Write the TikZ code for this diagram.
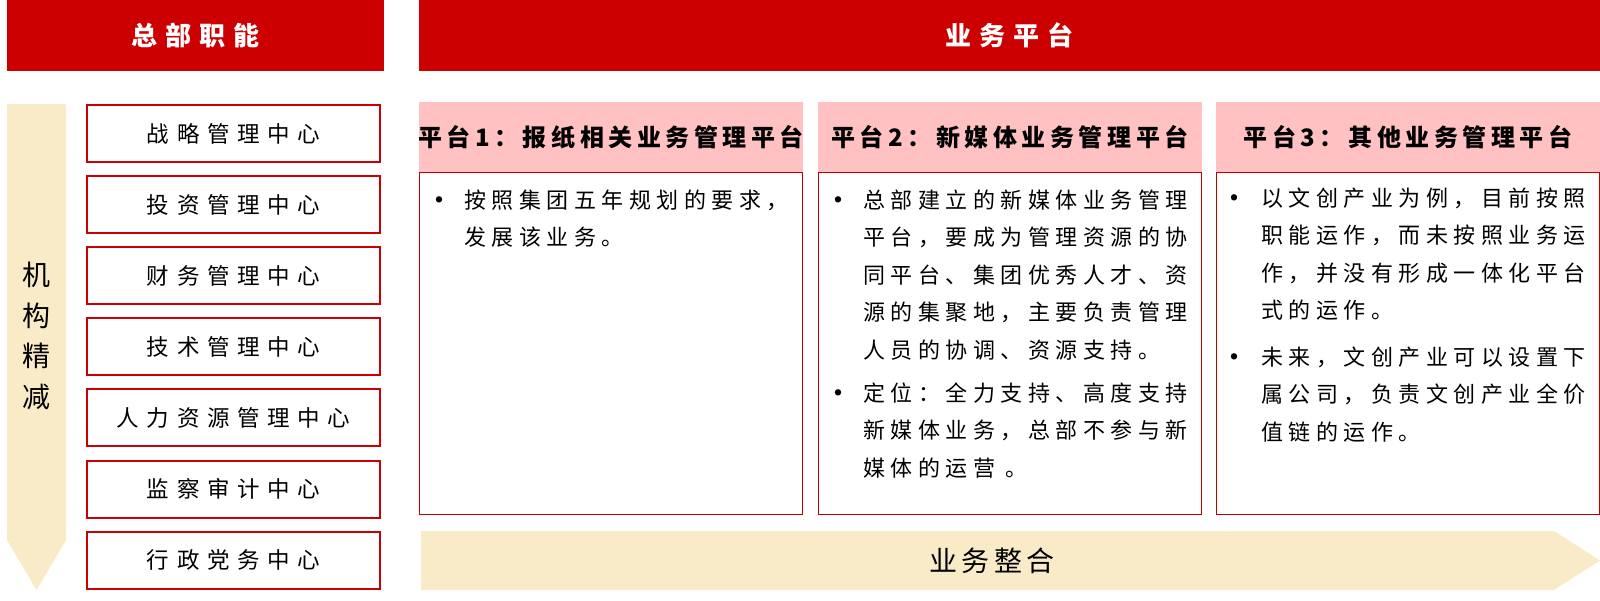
\documentclass[tikz,border=0pt]{standalone}
\usepackage{fontspec}
\setmainfont{Noto Sans CJK SC}
\newfontfamily\fonttesta[LetterSpace=30]{Noto Sans CJK SC}
\newfontfamily\fontcentro[LetterSpace=34]{Noto Sans CJK SC}
\newfontfamily\fonttitolo[LetterSpace=19]{Noto Sans CJK SC}
\newfontfamily\fontcorpo[LetterSpace=25]{Noto Sans CJK SC}
\newfontfamily\fontfreccia[LetterSpace=15]{Noto Sans CJK SC}
\definecolor{rosso}{HTML}{CC0000}
\definecolor{bordo}{HTML}{C00000}
\definecolor{rosa}{HTML}{FFC1C1}
\definecolor{crema}{HTML}{FAEBC8}
\tikzset{
  testata/.style={fill=rosso, minimum height=71pt, inner sep=0pt},
  centro/.style={draw=rosso, line width=2pt, fill=white, minimum width=293pt,
    minimum height=57pt, inner sep=0pt, font=\fontcentro\fontsize{22.5}{26}\selectfont},
  corpo/.style={anchor=north west, inner sep=0pt, align=left,
    font=\fontcorpo\fontsize{22}{37.5}\selectfont},
  punto/.style={inner sep=0pt, font=\fontsize{7}{7}\selectfont}
}
\begin{document}
\begin{tikzpicture}[x=1pt,y=-1pt]
% Definisci le variabili
\def\larg{384}  % larghezza di una piattaforma
\def\passo{71.1}  % passo dei centri
\useasboundingbox (0,0) rectangle (1600,600);

% Intestazioni rosse
\node[testata, minimum width=377pt] (sede) at (195.5,35.5) {};
\node[text=white, font=\fonttesta\bfseries\fontsize{26}{30}\selectfont] (sedetxt) at (sede.center) {总部职能};
\node[testata, minimum width=1181pt] (affari) at (1009.5,35.5) {};
\node[text=white, font=\fonttesta\bfseries\fontsize{26}{30}\selectfont] (affaritxt) at (affari.center) {业务平台};

% Freccia verticale
\fill[crema] (7,104) -- (66,104) -- (66,540) -- (36.5,590) -- (7,540) -- cycle;
\node[align=center, inner sep=0pt, font=\fontsize{28}{40.5}\selectfont] (snello) at (36.5,336) {机\\构\\精\\减};

% Centri funzionali
\foreach \nome [count=\k] in {战略管理中心,投资管理中心,财务管理中心,技术管理中心,人力资源管理中心,监察审计中心,行政党务中心} {
    \node[centro] (c\k) at (233.5,{133.5+\passo*(\k-1)}) {\nome};
}

% Piattaforme
\foreach \i/\x/\titolo in {1/419/平台1：报纸相关业务管理平台, 2/818/平台2：新媒体业务管理平台, 3/1216/平台3：其他业务管理平台} {
    \node[fill=rosa, minimum width=\larg pt, minimum height=70pt, inner sep=0pt] (pt\i) at ({\x+\larg/2},137) {};
    \node[inner sep=0pt, font=\fonttitolo\bfseries\fontsize{24}{28}\selectfont] (tit\i) at (pt\i.center) {\titolo};
    \node[draw=bordo, line width=1.3pt, minimum width=382.7pt, minimum height=342pt, inner sep=0pt] (pc\i) at ({\x+\larg/2},343.5) {};
}

% Testi
\node[punto] (b11) at (439,200) {●};
\node[corpo] (p11) at (464,189.5) {按照集团五年规划的要求，\\发展该业务。};
\node[punto] (b21) at (838,200) {●};
\node[corpo] (p21) at (863,189.5) {总部建立的新媒体业务管理\\平台，要成为管理资源的协\\同平台、集团优秀人才、资\\源的集聚地，主要负责管理\\人员的协调、资源支持。};
\node[punto] (b22) at (838,393) {●};
\node[corpo] (p22) at (863,382.5) {定位：全力支持、高度支持\\新媒体业务，总部不参与新\\媒体的运营 。};
\node[punto] (b31) at (1234,198) {●};
\node[corpo] (p31) at (1261,187.5) {以文创产业为例，目前按照\\职能运作，而未按照业务运\\作，并没有形成一体化平台\\式的运作。};
\node[punto] (b32) at (1234,357) {●};
\node[corpo] (p32) at (1261,346.5) {未来，文创产业可以设置下\\属公司，负责文创产业全价\\值链的运作。};

% Freccia orizzontale
\fill[crema] (421,531) -- (1554,531) -- (1600,560.5) -- (1554,590) -- (421,590) -- cycle;
\node[inner sep=0pt, font=\fontfreccia\fontsize{28}{32}\selectfont] (integra) at (992,560.5) {业务整合};

\end{tikzpicture}
\end{document}
